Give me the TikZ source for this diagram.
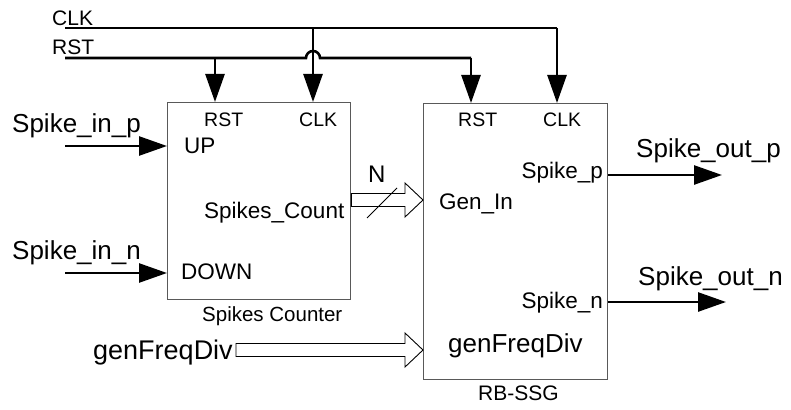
\documentclass[tikz,border=0pt]{standalone}
\usepackage{fontspec}
\setmainfont{Liberation Sans}
\usetikzlibrary{arrows.meta,calc}
\tikzstyle{blk}=[rectangle, draw=black!65, line width=1.4pt, inner sep=0pt, anchor=north west]
\tikzstyle{big}=[inner sep=0pt, anchor=base west, font=\fontsize{26}{28}\selectfont]
\tikzstyle{pin}=[inner sep=0pt, anchor=base west, font=\fontsize{22.5}{24}\selectfont]
\tikzstyle{small}=[inner sep=0pt, anchor=base west, font=\fontsize{19.5}{22}\selectfont]
\tikzstyle{sig}=[line width=2.6pt, -{Triangle[length=28pt,width=19pt]}]
\tikzstyle{wire}=[line width=2.6pt]
\newcommand{\busarrow}[2]
{
  \draw[line width=0.9pt, line join=miter] let \p1=(#1), \p2=(#2) in
    (\x1,\y1+6.5pt) -- (\x2-18pt,\y1+6.5pt) -- (\x2-18pt,\y1+17pt) -- (\x2,\y1)
    -- (\x2-18pt,\y1-17pt) -- (\x2-18pt,\y1-6.5pt) -- (\x1,\y1-6.5pt) -- cycle;
}

\begin{document}
\begin{tikzpicture}[x=1pt,y=1pt]
	\useasboundingbox (0,0) rectangle (791,-409);

	% blocks
	\node[blk, minimum width=183pt, minimum height=197pt](cnt) at (167,-102){};
	\node[blk, minimum width=184pt, minimum height=276pt](ssg) at (423,-103){};

	% global inputs
	\node[small, font=\fontsize{21}{22}\selectfont](clklbl) at (52,-26){CLK};
	\node[small, font=\fontsize{21}{22}\selectfont](rstlbl) at (52,-55){RST};
	\coordinate (clkin) at (65,-28);
	\coordinate (rstin) at (65,-58);
	\coordinate (rstA) at (215,-58);
	\coordinate (clkA) at (313,-28);
	\coordinate (rstB) at (471,-58);
	\coordinate (clkB) at (557,-28);

	\draw[wire] (clkin) -- (clkB);
	\draw[sig] (clkB) -- (clkB |- ssg.north);
	\draw[wire] (rstin) -- ($(clkA |- rstin)+(-7,0)$) arc (180:0:7) -- (rstB);
	\draw[sig] (rstB) -- (rstB |- ssg.north);
	\draw[sig] (rstA) -- (rstA |- cnt.north);
	\draw[sig] (clkA) -- (clkA |- cnt.north);

	% spikes counter
	\node[small](cntrst) at (204,-126){RST};
	\node[small](cntclk) at (299,-126){CLK};
	\node[pin](up) at (184,-153){UP};
	\node[pin](down) at (181,-279){DOWN};
	\node[pin](count) at (204,-218){Spikes\_Count};
	\node[small, font=\fontsize{20.5}{22}\selectfont](cntname) at (202,-321){Spikes Counter};

	\node[big](inp) at (12,-132){Spike\_in\_p};
	\node[big](inn) at (12,-259){Spike\_in\_n};
	\coordinate (inpsrc) at (65,-146);
	\coordinate (innsrc) at (65,-273);
	\draw[sig] (inpsrc) -- (inpsrc -| cnt.west);
	\draw[sig] (innsrc) -- (innsrc -| cnt.west);

	% RB-SSG
	\node[small](ssgrst) at (458,-126){RST};
	\node[small](ssgclk) at (543,-126){CLK};
	\node[pin](genin) at (439,-209){Gen\_In};
	\node[pin, anchor=base east](spp) at (603,-178){Spike\_p};
	\node[pin, anchor=base east](spn) at (603,-308){Spike\_n};
	\node[big](gfdin) at (448,-352){genFreqDiv};
	\node[small, font=\fontsize{21}{22}\selectfont](ssgname) at (478,-400){RB-SSG};

	% count bus
	\coordinate (busA) at (cnt.east |- 0,-200);
	\busarrow{busA}{busA -| ssg.west}
	\draw[line width=0.8pt] (367,-218) -- (397,-188);
	\node[pin, font=\fontsize{24}{26}\selectfont](nlbl) at (368,-182){N};

	% divider input
	\node[big, font=\fontsize{27}{28}\selectfont](gfd) at (93,-359){genFreqDiv};
	\coordinate (gfdsrc) at (236,-350);
	\busarrow{gfdsrc}{gfdsrc -| ssg.west}

	% outputs
	\node[big](outp) at (636,-157){Spike\_out\_p};
	\node[big](outn) at (638,-285){Spike\_out\_n};
	\coordinate (poutend) at (722,-175);
	\coordinate (noutend) at (726,-302);
	\draw[sig] (poutend -| ssg.east) -- (poutend);
	\draw[sig] (noutend -| ssg.east) -- (noutend);
\end{tikzpicture}
\end{document}
